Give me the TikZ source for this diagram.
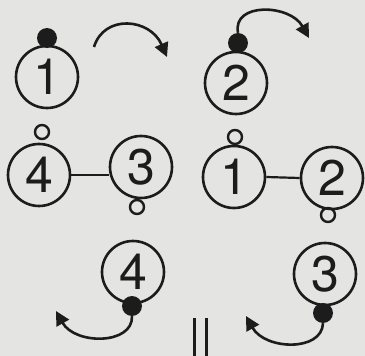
\documentclass[tikz,border=0pt]{standalone}
\usepackage{fontspec}
\setmainfont{TeX Gyre Heros}
\usetikzlibrary{arrows.meta}
\definecolor{bg}{RGB}{228,228,226}
\definecolor{ink}{RGB}{28,28,28}
\begin{document}
\begin{tikzpicture}[x=1pt,y=-1pt,
  atom/.style={circle,draw=ink,line width=2.6pt,minimum size=62pt,inner sep=0pt,
    font=\fontsize{50}{50}\selectfont,text=ink},
  fulldot/.style={circle,fill=ink,minimum size=20pt,inner sep=0pt},
  opendot/.style={circle,draw=ink,line width=2.4pt,minimum size=14pt,inner sep=0pt},
  bond/.style={draw=ink,line width=2.2pt},
  turn/.style={draw=ink,line width=2.6pt,-{Triangle[length=14pt,width=14pt]}}]
\fill[bg] (0,0) rectangle (365,356);
\useasboundingbox (0,0) rectangle (365,356);
% top row
\node[atom] (a1) at (47,77) {1};
\node[fulldot] (d1) at (47,38) {};
\node[atom] (b2) at (236,83) {2};
\node[fulldot] (d2) at (238,43) {};
\coordinate (s1) at (94,47);
\coordinate (t1) at (167,57);
\coordinate (t2) at (309,38);
\draw[turn] (s1) .. controls (104,14) and (150,18) .. (t1);
\draw[turn] (d2.north) .. controls (232,2) and (290,4) .. (t2);
% middle row
\node[atom] (c4) at (39,175) {4};
\node[atom] (c3) at (141,167) {3};
\node[opendot] (o4) at (42,132) {};
\node[opendot] (o3) at (137,207) {};
\draw[bond] (c4.east) -- (c3.west |- c4.east);
\node[atom] (e1) at (234,177) {1};
\node[atom] (e2) at (332,178) {2};
\node[opendot] (p1) at (235,137) {};
\node[opendot] (p2) at (328,215) {};
\draw[bond] (e1.east) -- (e2.west);
% bottom row
\node[atom] (f4) at (133,272) {4};
\node[fulldot] (g4) at (132,306) {};
\node[atom] (f3) at (325,274) {3};
\node[fulldot] (g3) at (323,313) {};
\coordinate (t3) at (56,311);
\coordinate (t4) at (246,316);
\draw[turn] (g4.south) .. controls (133,345) and (75,345) .. (t3);
\draw[turn] (g3.south) .. controls (322,352) and (265,350) .. (t4);
% bars
\draw[ink,line width=3pt] (194,318) -- (194,356);
\draw[ink,line width=3pt] (206,318) -- (206,356);
\end{tikzpicture}
\end{document}
